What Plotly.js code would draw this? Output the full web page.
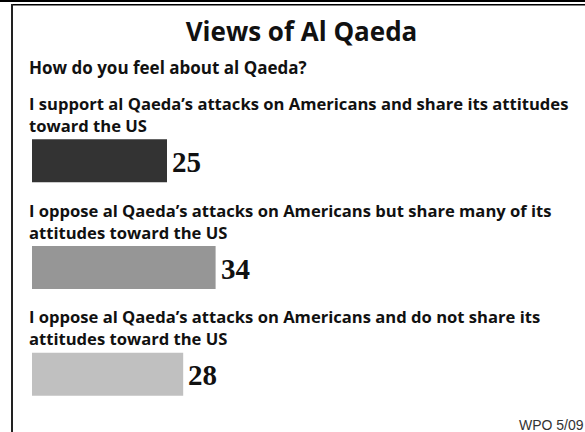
<!DOCTYPE html>
<html>
<head>
<meta charset="utf-8">
<script src="https://cdn.plot.ly/plotly-3.0.1.min.js"></script>
<style>html,body{margin:0;padding:0;background:#fff;}#chart{width:585px;height:432px;}</style>
</head>
<body>
<div id="chart"></div>
<script>
// ---- data ----
const chartTitle = "Views of Al Qaeda";
const question = "How do you feel about al Qaeda?";
const categories = [
  "I support al Qaeda’s attacks on Americans and share its attitudes<br>toward the US",
  "I oppose al Qaeda’s attacks on Americans but share many of its<br>attitudes toward the US",
  "I oppose al Qaeda’s attacks on Americans and do not share its<br>attitudes toward the US"
];
const values = [25, 34, 28];
const barColors = ["#333333", "#969696", "#c0c0c0"];
const source = "WPO 5/09";

// ---- chart ----
const W = 585, H = 432;
const ML = 32, MR = 13;
const plotW = W - ML - MR;
const pxX = (x) => (x - ML) / plotW;   // page pixel -> paper x
const pyY = (y) => 1 - y / H;          // page pixel -> paper y

const bodyFont = "'Open Sans', 'Noto Sans', sans-serif";

const trace = {
  type: "bar",
  orientation: "h",
  y: categories,
  x: values,
  width: 0.4026,
  marker: { color: barColors, line: { width: 0 } },
  hoverinfo: "none"
};

const annotations = categories.map(c => ({
  xref: "paper", x: 0, xanchor: "left", xshift: -5,
  yref: "y", y: c, yanchor: "bottom", yshift: 22,
  text: "<b>" + c + "</b>",
  showarrow: false, align: "left",
  font: { family: bodyFont, size: 16.6, color: "#111" }
}));

// value labels just right of each bar end
values.forEach((v, i) => annotations.push({
  xref: "x", x: v, xanchor: "left", xshift: 3,
  yref: "y", y: categories[i], yanchor: "middle", yshift: -1,
  text: "<b>" + v + "</b>", showarrow: false,
  font: { family: "'Liberation Serif', 'Times New Roman', serif", size: 29, color: "#111" }
}));

annotations.push({
  xref: "paper", x: 0, xanchor: "left", xshift: -5,
  yref: "paper", y: pyY(74), yanchor: "bottom", yshift: -7,
  text: "<b>" + question + "</b>", showarrow: false,
  font: { family: bodyFont, size: 17, color: "#111" }
});

annotations.push({
  xref: "paper", x: pxX(586), xanchor: "right",
  yref: "paper", y: 0, yanchor: "bottom", yshift: -3,
  text: source, showarrow: false,
  font: { family: "'Liberation Sans Narrow', 'Liberation Sans', sans-serif", size: 14, color: "#333" }
});

const layout = {
  width: W, height: H,
  margin: { l: ML, r: MR, t: 0, b: 0, pad: 0 },
  paper_bgcolor: "#fff", plot_bgcolor: "#fff",
  showlegend: false,
  title: {
    text: "<b>" + chartTitle + "</b>",
    font: { family: bodyFont, size: 26, color: "#111" },
    x: 301.5 / W, xanchor: "center", xref: "container",
    y: pyY(40), yanchor: "bottom", yref: "container", pad: { b: -1 }
  },
  xaxis: { range: [0, 100], visible: false, fixedrange: true },
  yaxis: {
    type: "category", categoryorder: "array", categoryarray: categories,
    range: [2.540, -1.505], visible: false, fixedrange: true
  },
  annotations: annotations,
  shapes: [
    { type: "line", xref: "paper", yref: "paper", x0: pxX(-5), x1: pxX(600), y0: pyY(1), y1: pyY(1), line: { color: "#000", width: 2 } },
    { type: "line", xref: "paper", yref: "paper", x0: pxX(11), x1: pxX(600), y0: pyY(4.7), y1: pyY(4.7), line: { color: "#000", width: 1.5 } },
    { type: "line", xref: "paper", yref: "paper", x0: pxX(12), x1: pxX(12), y0: pyY(4), y1: pyY(440), line: { color: "#222", width: 2 } }
  ]
};

Plotly.newPlot("chart", [trace], layout, { staticPlot: true, displayModeBar: false });
</script>
</body>
</html>
